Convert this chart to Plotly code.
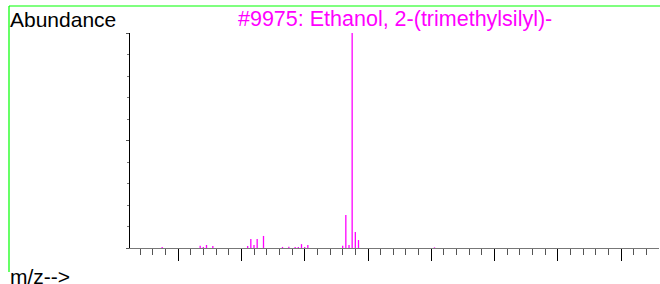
import plotly.graph_objects as go

# m/z values and relative abundances (%)
mz = [15, 27, 28, 29, 31, 42, 43, 44, 45, 47, 53, 55, 57, 58, 59, 60, 61,
      72, 73, 74, 75, 76, 77, 101]
abundance = [0.5, 1.0, 0.5, 1.4, 0.9, 0.9, 4.2, 1.4, 4.2, 5.6, 0.5, 0.6, 0.5,
             0.5, 1.8, 0.5, 1.4, 1.0, 15.3, 1.4, 100, 7.4, 3.7, 0.3]

title_text = "#9975: Ethanol, 2-(trimethylsilyl)-"
y_label = "Abundance"
x_label = "m/z-->"

W, H = 660, 284
FONT = "Liberation Sans, Arial, Helvetica, sans-serif"
FS = 21
MAGENTA = "#FF00FF"
GREEN = "#00FF00"


def px(x):
    return x / W


def py(y):
    return 1 - y / H


# stick spectrum: one vertical segment per peak, built from the data
xs, ys = [], []
for m, a in zip(mz, abundance):
    xs += [m, m, None]
    ys += [0, a, None]

fig = go.Figure()
fig.add_trace(go.Scatter(
    x=xs, y=ys, mode="lines",
    line=dict(color=MAGENTA, width=1.3),
    hoverinfo="skip", cliponaxis=False,
))

fig.update_layout(
    width=W, height=H,
    margin=dict(l=0, r=0, t=0, b=0),
    paper_bgcolor="white", plot_bgcolor="white",
    showlegend=False,
    font=dict(family=FONT, size=FS, color="black"),
    xaxis=dict(
        domain=[px(130), px(659)],
        range=[4.84, 171.9],
        showgrid=False, zeroline=False,
        showline=True, linecolor="#777777", linewidth=1,
        ticks="outside", tick0=0, dtick=20, ticklen=12,
        tickcolor="black", tickwidth=1,
        showticklabels=False,
        minor=dict(ticks="outside", tick0=0, dtick=4, ticklen=6,
                   tickcolor="#555555", tickwidth=1),
        fixedrange=True,
    ),
    yaxis=dict(
        domain=[py(248), py(33)],
        range=[0, 100],
        showgrid=False, zeroline=False,
        showline=True, linecolor="black", linewidth=1,
        ticks="outside", tick0=0, dtick=50, ticklen=3,
        tickcolor="#555555", tickwidth=1,
        showticklabels=False,
        minor=dict(ticks="outside", tick0=0, dtick=10, ticklen=2,
                   tickcolor="#777777", tickwidth=1),
        fixedrange=True,
    ),
    shapes=[
        dict(type="line", xref="paper", yref="paper",
             x0=px(9), x1=1.0, y0=py(6), y1=py(6),
             line=dict(color=GREEN, width=1.2)),
        dict(type="line", xref="paper", yref="paper",
             x0=px(9), x1=px(9), y0=py(6), y1=py(272),
             line=dict(color=GREEN, width=1.2)),
    ],
    annotations=[
        dict(text=y_label, xref="paper", yref="paper",
             x=px(8), y=py(19), xanchor="left", yanchor="middle",
             showarrow=False, font=dict(family=FONT, size=FS, color="black")),
        dict(text=title_text, xref="paper", yref="paper",
             x=px(394.5), y=py(19), xanchor="center", yanchor="middle",
             showarrow=False, font=dict(family=FONT, size=FS + 0.5, color=MAGENTA)),
        dict(text=x_label, xref="paper", yref="paper",
             x=px(8), y=py(276), xanchor="left", yanchor="middle",
             showarrow=False, font=dict(family=FONT, size=FS, color="black")),
        dict(text=x_label, xref="paper", yref="paper",
             x=px(8), y=py(-7), xanchor="left", yanchor="middle",
             showarrow=False, font=dict(family=FONT, size=FS, color="black")),
    ],
)

fig.write_html(
    "out.html",
    config={"displayModeBar": False, "staticPlot": True},
    post_script="document.body.style.margin='0';document.body.style.overflow='hidden';",
)
